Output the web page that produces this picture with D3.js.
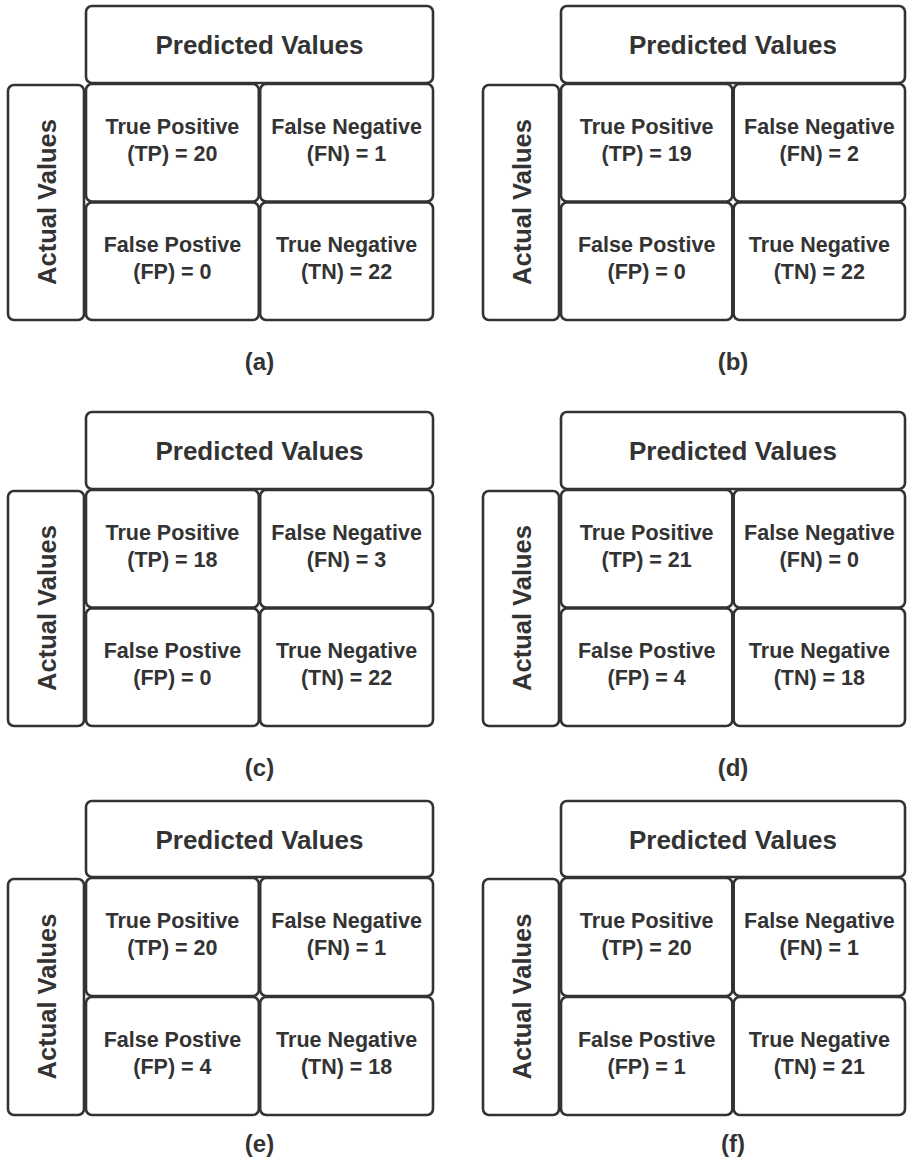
<!DOCTYPE html>
<html>
<head>
<meta charset="utf-8">
<script src="https://cdn.jsdelivr.net/npm/d3@7"></script>
<style>
  html, body { margin: 0; padding: 0; background: #fff; }
  svg { display: block; }
  text { font-family: "Liberation Sans", Arial, sans-serif; font-weight: bold; fill: #333; }
</style>
</head>
<body>
<svg id="chart" width="907" height="1157"></svg>
<script>
// Confusion-matrix results, one entry per panel
const panelLabels = ["(a)", "(b)", "(c)", "(d)", "(e)", "(f)"];
const tpValues = [20, 19, 18, 21, 20, 20];
const fnValues = [1, 2, 3, 0, 1, 1];
const fpValues = [0, 0, 0, 4, 4, 1];
const tnValues = [22, 22, 22, 18, 18, 21];

// Cell names (row = actual, column = predicted)
const predictedCols = ["pos", "neg"];
const actualRows = ["pos", "neg"];
const cellNames = {
  "pos-pos": ["True Positive", "TP"],
  "pos-neg": ["False Negative", "FN"],
  "neg-pos": ["False Postive", "FP"],
  "neg-neg": ["True Negative", "TN"]
};

// Grid layout of the six panels
const colLayout = [
  { left: 8, side: 77, right: 433 },
  { left: 483, side: 77, right: 905 }
];
const rowLayout = [
  { top: 6, head: 78, bottom: 320, caption: 361 },
  { top: 412, head: 78, bottom: 726, caption: 767 },
  { top: 801, head: 77, bottom: 1115, caption: 1143 }
];

const svg = d3.select("#chart");
const stroke = "#333";
const sw = 2.6;
const rad = 6;

function box(g, x0, y0, x1, y1) {
  g.append("rect")
    .attr("x", x0).attr("y", y0)
    .attr("width", x1 - x0).attr("height", y1 - y0)
    .attr("rx", rad).attr("ry", rad)
    .attr("fill", "#fff")
    .attr("stroke", stroke)
    .attr("stroke-width", sw);
}

panelLabels.forEach((lab, i) => {
  const c = colLayout[i % 2];
  const r = rowLayout[Math.floor(i / 2)];
  const g = svg.append("g");

  const gridLeft = c.left + c.side + 1;
  const gridTop = r.top + r.head;

  const x = d3.scaleBand().domain(predictedCols).range([gridLeft, c.right]).paddingInner(0.008);
  const y = d3.scaleBand().domain(actualRows).range([gridTop, r.bottom]).paddingInner(0.008);

  // "Predicted Values" header
  box(g, gridLeft, r.top, c.right, gridTop - 1);
  g.append("text")
    .attr("x", (gridLeft + c.right) / 2)
    .attr("y", r.top + r.head / 2)
    .attr("text-anchor", "middle")
    .attr("dominant-baseline", "central")
    .attr("font-size", 26)
    .text("Predicted Values");

  // "Actual Values" side label
  box(g, c.left, gridTop + 1, c.left + c.side - 1, r.bottom);
  const sx = c.left + c.side / 2;
  const sy = (gridTop + r.bottom) / 2;
  g.append("text")
    .attr("transform", `translate(${sx},${sy}) rotate(-90)`)
    .attr("text-anchor", "middle")
    .attr("dominant-baseline", "central")
    .attr("font-size", 25.5)
    .text("Actual Values");

  const vals = {
    "pos-pos": tpValues[i], "pos-neg": fnValues[i],
    "neg-pos": fpValues[i], "neg-neg": tnValues[i]
  };

  actualRows.forEach(a => {
    predictedCols.forEach(p => {
      const key = a + "-" + p;
      const x0 = x(p), y0 = y(a);
      box(g, x0, y0, x0 + x.bandwidth(), y0 + y.bandwidth());
      const cx = x0 + x.bandwidth() / 2;
      const cy = y0 + y.bandwidth() / 2;
      const t = g.append("text")
        .attr("x", cx).attr("y", cy - 9)
        .attr("text-anchor", "middle")
        .attr("font-size", 21.5);
      t.append("tspan").attr("x", cx).text(cellNames[key][0]);
      t.append("tspan").attr("x", cx).attr("dy", 27)
        .text(`(${cellNames[key][1]}) = ${vals[key]}`);
    });
  });

  // Panel caption
  g.append("text")
    .attr("x", (gridLeft + c.right) / 2)
    .attr("y", r.caption)
    .attr("text-anchor", "middle")
    .attr("dominant-baseline", "central")
    .attr("font-size", 24)
    .text(lab);
});
</script>
</body>
</html>
